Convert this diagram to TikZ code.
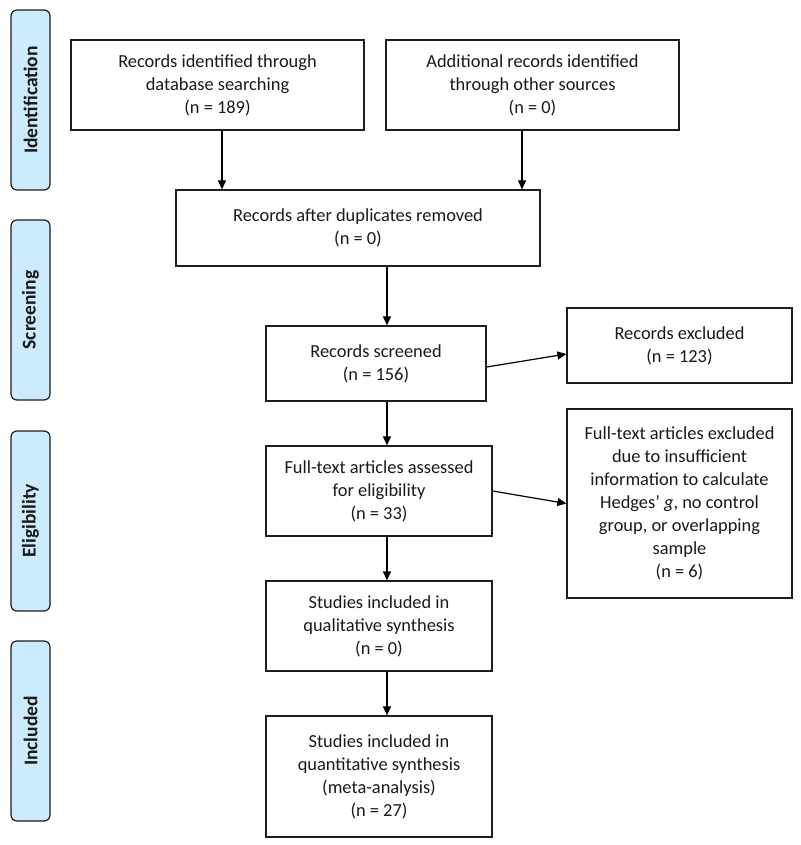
\documentclass[tikz,border=0pt]{standalone}
\usepackage{fontspec}
\setmainfont{Carlito}
\usetikzlibrary{arrows.meta}
\definecolor{sidefill}{RGB}{204,235,252}
\definecolor{linecol}{RGB}{30,30,30}
\begin{document}
\begin{tikzpicture}[x=1pt,y=-1pt,
  box/.style={draw=linecol, line width=1.2pt, inner sep=0pt, align=center,
    font=\fontsize{18.4}{23}\selectfont, text=black!90},
  side/.style={draw=linecol, line width=1.2pt, fill=sidefill, rounded corners=6pt,
    rotate=90, inner sep=0pt, minimum width=180pt, minimum height=39pt,
    font=\bfseries\fontsize{19.5}{22}\selectfont, text=black!90},
  arr/.style={draw=black, line width=1.2pt, -{Triangle[length=9pt,width=8pt]}}]
\useasboundingbox (0,0) rectangle (800,845);

\node[side] (sid) at (30.5,100) {Identification};
\node[side] (sscr) at (30.5,310) {Screening};
\node[side] (selig) at (30.5,521) {Eligibility};
\node[side] (sinc) at (30.5,731) {Included};

\node[box, minimum width=293pt, minimum height=90pt] (b1) at (217.5,85)
  {Records identified through\\database searching\\(n = 189)};
\node[box, minimum width=293pt, minimum height=90pt] (b2) at (532.5,85)
  {Additional records identified\\through other sources\\(n = 0)};
\node[box, minimum width=364pt, minimum height=76pt] (b3) at (358,228)
  {Records after duplicates removed\\(n = 0)};
\node[box, minimum width=220pt, minimum height=75pt] (b4) at (376,363.5)
  {Records screened\\(n = 156)};
\node[box, minimum width=225pt, minimum height=75pt] (e1) at (679.5,345.5)
  {Records excluded\\(n = 123)};
\node[box, minimum width=226pt, minimum height=90pt] (b5) at (379,491)
  {Full-text articles assessed\\for eligibility\\(n = 33)};
\node[box, minimum width=225pt, minimum height=189pt] (e2) at (679.5,503.5)
  {Full-text articles excluded\\due to insufficient\\information to calculate\\Hedges’ \textit{g}, no control\\group, or overlapping\\sample\\(n = 6)};
\node[box, minimum width=226pt, minimum height=90pt] (b6) at (379,626)
  {Studies included in\\qualitative synthesis\\(n = 0)};
\node[box, minimum width=226pt, minimum height=121pt] (b7) at (379,776.5)
  {Studies included in\\quantitative synthesis\\(meta-analysis)\\(n = 27)};

\coordinate (c1) at (222,0);
\coordinate (c2) at (522,0);
\coordinate (c3) at (387,0);

\draw[arr] (b1.south -| c1) -- (b3.north -| c1);
\draw[arr] (b2.south -| c2) -- (b3.north -| c2);
\draw[arr] (b3.south -| c3) -- (b4.north -| c3);
\draw[arr] ([yshift=-3.5pt]b4.east) -- ([yshift=-8.5pt]e1.west);
\draw[arr] (b4.south -| c3) -- (b5.north -| c3);
\draw[arr] (b5.east) -- (e2.west);
\draw[arr] (b5.south -| c3) -- (b6.north -| c3);
\draw[arr] (b6.south -| c3) -- (b7.north -| c3);
\end{tikzpicture}
\end{document}
